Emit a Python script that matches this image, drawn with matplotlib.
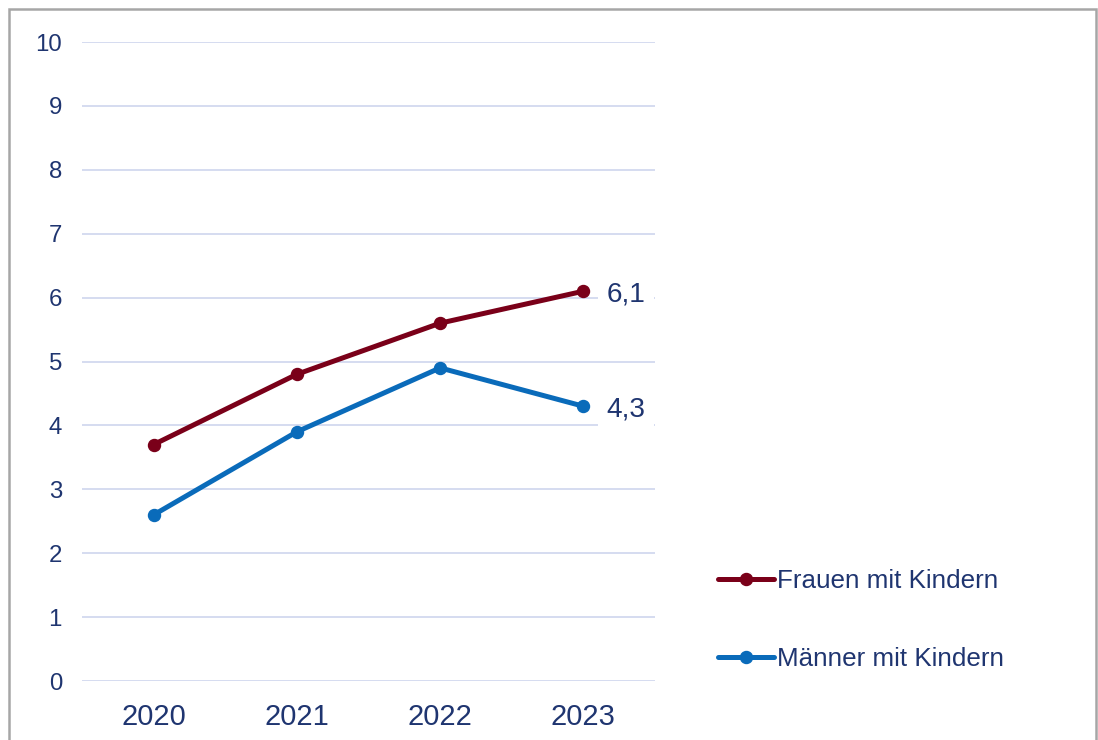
import matplotlib
matplotlib.use("Agg")
import matplotlib.pyplot as plt
from matplotlib.patches import Rectangle

years = ["2020", "2021", "2022", "2023"]
frauen = [3.7, 4.8, 5.6, 6.1]
maenner = [2.6, 3.9, 4.9, 4.3]
series_labels = ["Frauen mit Kindern", "Männer mit Kindern"]

RED = "#7A0019"
BLUE = "#0A6BBA"
TEXT = "#1F3570"
GRID = "#D6DCF0"
FRAME = "#A6A6A6"

W, H = 1098, 740
plt.rcParams["font.family"] = ["Liberation Sans", "DejaVu Sans"]


def px(v):
    # pixel size -> points at dpi 100
    return v * 72 / 100


fig = plt.figure(figsize=(W / 100, H / 100), dpi=100)
ax = fig.add_axes([82 / W, 1 - 681 / H, (655 - 82) / W, (681 - 42) / H])

x = range(len(years))
for vals, col, lab in ((frauen, RED, series_labels[0]), (maenner, BLUE, series_labels[1])):
    ax.plot(x, vals, "-o", color=col, lw=px(5), ms=px(12), label=lab,
            solid_capstyle="round", zorder=3)

# end-of-line value labels; the white box hides the grid behind them
for vals in (frauen, maenner):
    ax.annotate(f"{vals[-1]:.1f}".replace(".", ","), (len(years) - 1, vals[-1]),
                textcoords="offset points", xytext=(px(23), -px(3)),
                ha="left", va="center", fontsize=px(28), color=TEXT, zorder=4,
                bbox=dict(boxstyle="square,pad=0.3", fc="white", ec="none"))

ax.set_xlim(-0.5, len(years) - 0.5)
ax.set_ylim(0, 10)
ax.set_yticks(range(0, 11))
ax.set_xticks(list(x))
ax.set_xticklabels(years)
ax.grid(axis="y", color=GRID, lw=px(2))
ax.set_axisbelow(True)
for s in ax.spines.values():
    s.set_visible(False)
ax.tick_params(axis="y", length=0, pad=px(20), labelsize=px(24), labelcolor=TEXT)
ax.tick_params(axis="x", length=0, pad=px(22), labelsize=px(29), labelcolor=TEXT)

fig.legend(loc="center left", bbox_to_anchor=(695 / W, 1 - 620 / H),
           frameon=False, fontsize=px(26), labelcolor=TEXT,
           handlelength=2.15, handletextpad=0.12, labelspacing=2.05)

# chart frame (bottom edge falls outside the image)
fig.add_artist(Rectangle((9 / W, -0.05), (1096 - 9) / W, 1.05 - 9 / H,
                         transform=fig.transFigure, fill=False, ec=FRAME,
                         lw=px(2.5), clip_on=False))

fig.savefig("out.png", dpi=100)
